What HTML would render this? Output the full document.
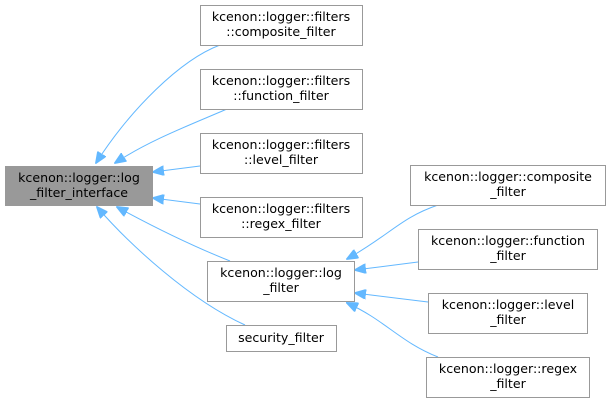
<!DOCTYPE html>
<html><head><meta charset="utf-8"><style>
html,body{margin:0;padding:0;background:#fff;}
svg text{font-family:"DejaVu Sans","Liberation Sans",sans-serif;font-size:12.6px;fill:#000;}
</style></head><body>
<svg width="611" height="403" viewBox="0 0 611 403" xmlns="http://www.w3.org/2000/svg">
<defs>
<marker id="a" markerWidth="12" markerHeight="10" refX="11" refY="5" orient="auto" markerUnits="userSpaceOnUse">
<path d="M0,0 L12,5 L0,10 Z" fill="#63b8ff" stroke="#63b8ff"/>
</marker>
</defs>
<g fill="none" stroke="#63b8ff" stroke-width="1" marker-end="url(#a)">
<path d="M220,45 C180,60 130,110 96,163"/>
<path d="M227,109 C190,125 150,140 115,163"/>
<path d="M200,166 L153,172"/>
<path d="M200,204 L153,198"/>
<path d="M230,261 C190,245 150,225 117,207"/>
<path d="M245,325 C190,300 130,245 97,207"/>
<path d="M438,205 C400,218 390,235 347,259"/>
<path d="M418,262 L355,270"/>
<path d="M428,302 L355,293"/>
<path d="M438,357 C400,342 385,320 347,303"/>
</g>
<g stroke="#999" stroke-width="1">
<rect x="5.5" y="166.5" width="147" height="39" fill="#999"/>
<rect x="200.5" y="5.5" width="162" height="40" fill="#fff"/>
<rect x="200.5" y="69.5" width="162" height="40" fill="#fff"/>
<rect x="200.5" y="133.5" width="162" height="40" fill="#fff"/>
<rect x="200.5" y="197.5" width="162" height="40" fill="#fff"/>
<rect x="207.5" y="261.5" width="147" height="40" fill="#fff"/>
<rect x="226.5" y="325.5" width="110" height="26" fill="#fff"/>
<rect x="410.5" y="165.5" width="195" height="40" fill="#fff"/>
<rect x="418.5" y="229.5" width="179" height="40" fill="#fff"/>
<rect x="428.5" y="293.5" width="159" height="40" fill="#fff"/>
<rect x="426.5" y="357.5" width="163" height="40" fill="#fff"/>
</g>
<g text-anchor="middle">
<text x="79" y="182">kcenon::logger::log</text><text x="79" y="197">_filter_interface</text>
<text x="281" y="21">kcenon::logger::filters</text><text x="281" y="36">::composite_filter</text>
<text x="281" y="85">kcenon::logger::filters</text><text x="281" y="100">::function_filter</text>
<text x="281" y="149">kcenon::logger::filters</text><text x="281" y="164">::level_filter</text>
<text x="281" y="213">kcenon::logger::filters</text><text x="281" y="228">::regex_filter</text>
<text x="281" y="277">kcenon::logger::log</text><text x="281" y="292">_filter</text>
<text x="281" y="342">security_filter</text>
<text x="508" y="181">kcenon::logger::composite</text><text x="508" y="196">_filter</text>
<text x="508" y="245">kcenon::logger::function</text><text x="508" y="260">_filter</text>
<text x="508" y="309">kcenon::logger::level</text><text x="508" y="324">_filter</text>
<text x="508" y="373">kcenon::logger::regex</text><text x="508" y="388">_filter</text>
</g>
</svg>
</body></html>
